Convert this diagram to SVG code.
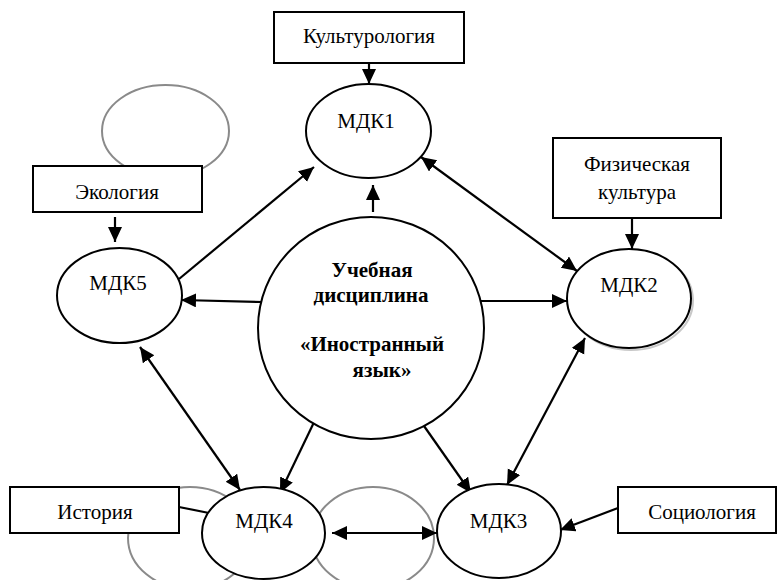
<svg xmlns="http://www.w3.org/2000/svg" width="778" height="580" viewBox="0 0 778 580">
<style>
.bg{fill:#fff}
.ghost{fill:none;stroke:#8a8a8a;stroke-width:2}
.node{fill:#fff;stroke:#000;stroke-width:2}
.box{fill:#fff;stroke:#000;stroke-width:2}
.lbl{font-family:"Liberation Serif","Times New Roman","DejaVu Serif",serif;font-size:21px;fill:#000;text-anchor:middle}
.bold{font-weight:bold}
.con line{stroke:#000;stroke-width:2.2;fill:none}
</style>
<defs>
<marker id="ah" markerUnits="userSpaceOnUse" markerWidth="16" markerHeight="16" refX="15" refY="7" orient="auto-start-reverse" viewBox="0 0 16 16">
<path d="M0,0 L15,7 L0,14 z" fill="#000"/>
</marker>
</defs>
<rect class="bg" x="0" y="0" width="778" height="580"/>

<g id="decor">
<ellipse class="ghost" cx="165.5" cy="131" rx="63.5" ry="46"/>
<ellipse class="ghost" cx="190" cy="538" rx="62" ry="51"/>
<ellipse class="ghost" cx="373" cy="538" rx="61" ry="51"/>
</g>

<g id="connectors" class="con">
<line x1="369" y1="63" x2="369" y2="84" marker-end="url(#ah)"/>
<line x1="115" y1="217" x2="115" y2="242" marker-end="url(#ah)"/>
<line x1="632" y1="218" x2="632" y2="249" marker-end="url(#ah)"/>
<line x1="618" y1="508" x2="560" y2="530" marker-end="url(#ah)"/>
<line x1="179" y1="507" x2="209" y2="513"/>
<line x1="373" y1="212" x2="373" y2="185" marker-end="url(#ah)"/>
<line x1="263" y1="302" x2="181" y2="300" marker-end="url(#ah)"/>
<line x1="471" y1="301" x2="567" y2="301" marker-end="url(#ah)"/>
<line x1="317" y1="416" x2="280" y2="493" marker-end="url(#ah)"/>
<line x1="417" y1="416" x2="471" y2="493" marker-end="url(#ah)"/>
<line x1="179" y1="279" x2="314" y2="167" marker-end="url(#ah)"/>
<line x1="421" y1="157" x2="577" y2="271" marker-start="url(#ah)" marker-end="url(#ah)"/>
<line x1="585" y1="338" x2="507" y2="485" marker-start="url(#ah)" marker-end="url(#ah)"/>
<line x1="332" y1="533" x2="437" y2="533" marker-start="url(#ah)" marker-end="url(#ah)"/>
<line x1="140" y1="347" x2="240" y2="490" marker-start="url(#ah)" marker-end="url(#ah)"/>
</g>

<g id="kulturologiya">
<rect class="box" x="274" y="12" width="190" height="51"/>
<text class="lbl" x="369" y="43">Культурология</text>
</g>
<g id="ekologiya">
<rect class="box" x="33" y="166" width="169" height="46"/>
<text class="lbl" x="117" y="199">Экология</text>
</g>
<g id="fizkultura">
<rect class="box" x="553" y="138" width="168" height="80"/>
<text class="lbl" x="637" y="171">Физическая</text>
<text class="lbl" x="637" y="199">культура</text>
</g>
<g id="istoriya">
<rect class="box" x="10" y="487" width="169" height="46"/>
<text class="lbl" x="95" y="519">История</text>
</g>
<g id="sociologiya">
<rect class="box" x="618" y="487" width="158" height="46"/>
<text class="lbl" x="702" y="519">Социология</text>
</g>

<g id="center">
<ellipse class="node" cx="371" cy="328" rx="113" ry="111"/>
<text class="lbl bold" x="372" y="277">Учебная</text>
<text class="lbl bold" x="371" y="302">дисциплина</text>
<text class="lbl bold" x="372" y="351">«Иностранный</text>
<text class="lbl bold" x="382" y="377">язык»</text>
</g>

<g id="mdk1">
<ellipse class="node" cx="368.5" cy="131" rx="62.5" ry="47"/>
<text class="lbl" x="366" y="128">МДК1</text>
</g>
<g id="mdk2">
<ellipse cx="631" cy="300.5" rx="62" ry="49.5" fill="none" stroke="#c8c8c8" stroke-width="2"/>
<ellipse class="node" cx="629" cy="298.5" rx="62" ry="49.5"/>
<text class="lbl" x="629" y="292">МДК2</text>
</g>
<g id="mdk3">
<ellipse class="node" cx="499" cy="531" rx="62" ry="47"/>
<text class="lbl" x="498.5" y="528">МДК3</text>
</g>
<g id="mdk4">
<ellipse class="node" cx="263.5" cy="533" rx="61.5" ry="46"/>
<text class="lbl" x="264" y="528">МДК4</text>
</g>
<g id="mdk5">
<ellipse class="node" cx="119.5" cy="295.5" rx="62.5" ry="47.5"/>
<text class="lbl" x="118" y="290">МДК5</text>
</g>
</svg>
